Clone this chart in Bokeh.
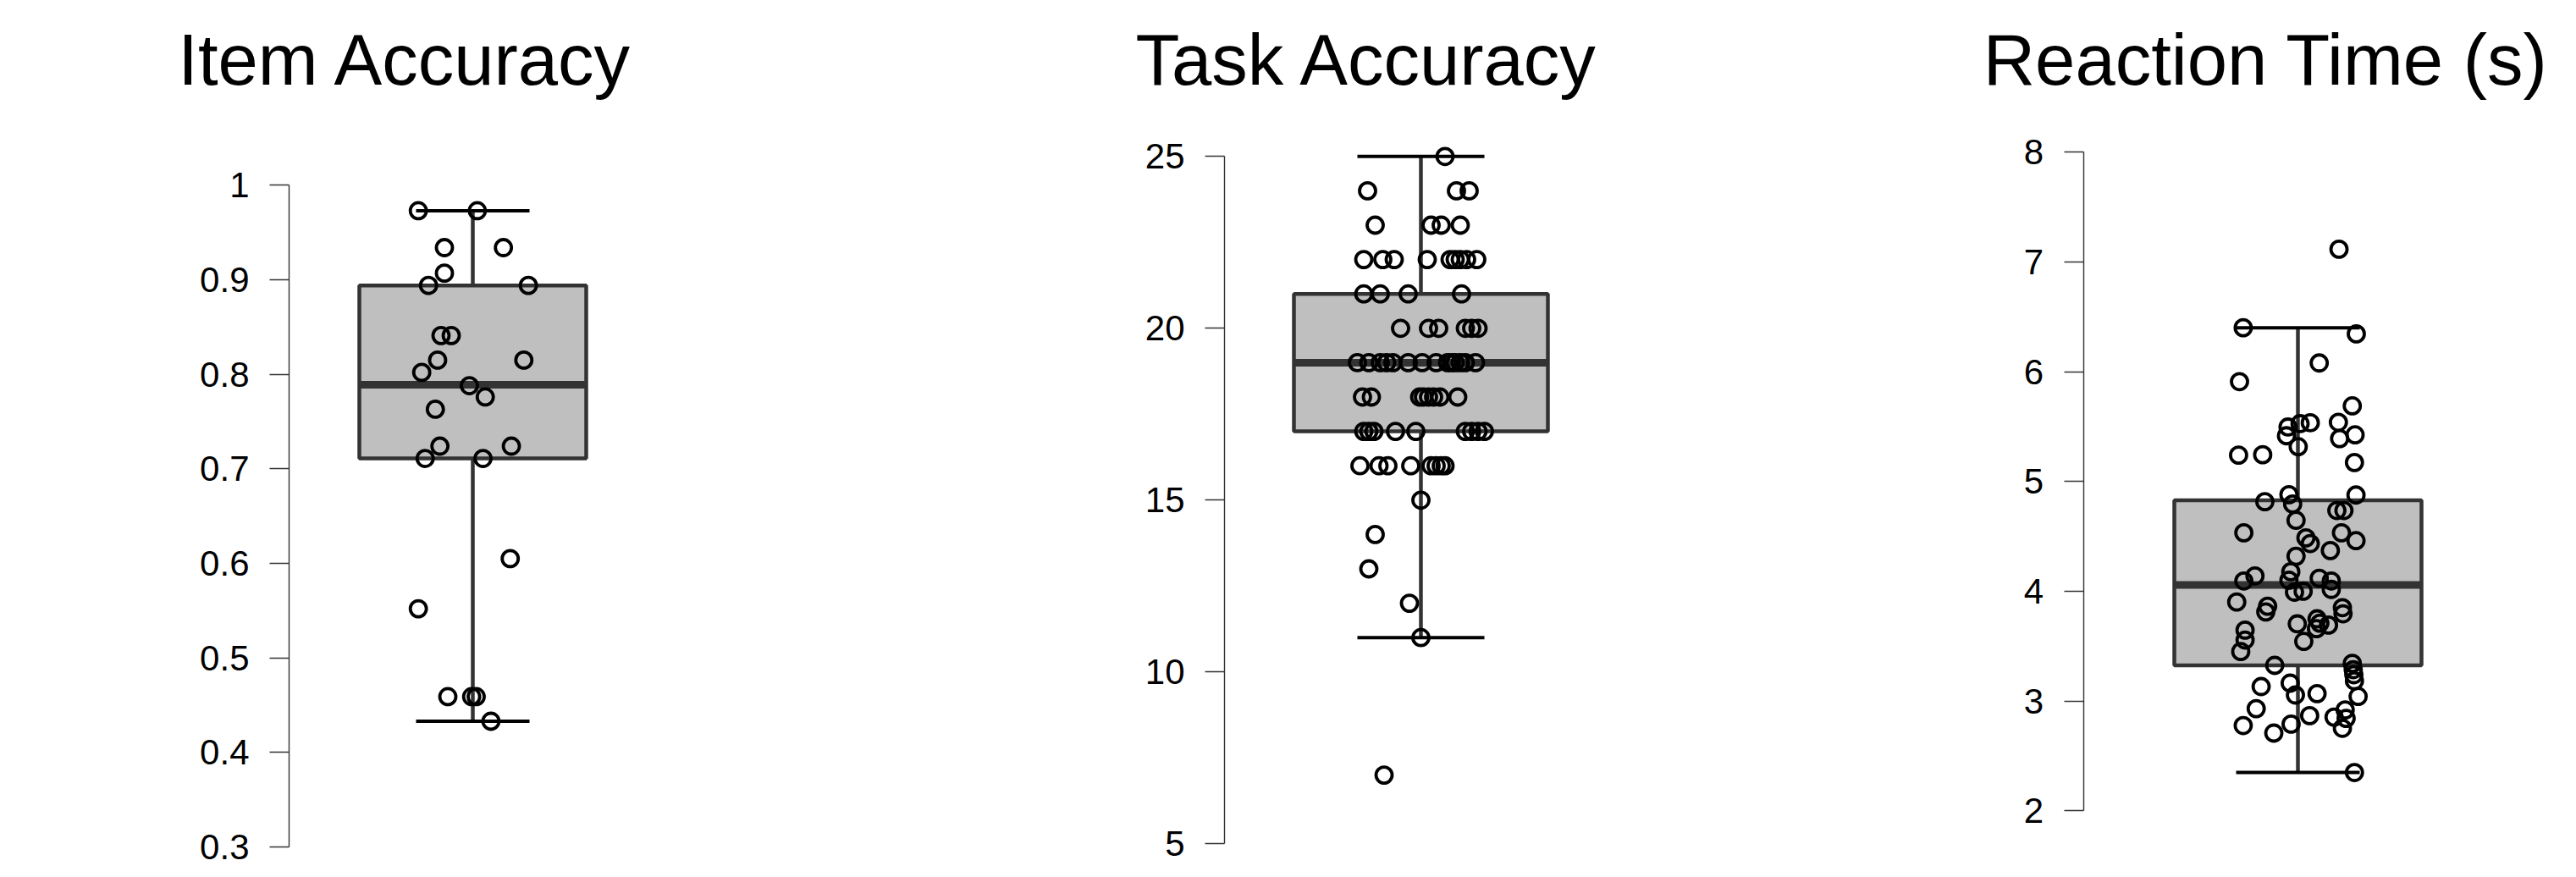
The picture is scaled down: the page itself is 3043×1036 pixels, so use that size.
from bokeh.plotting import figure
from bokeh.layouts import row
from bokeh.models import LinearAxis, FixedTicker, Range1d, Label
from bokeh.embed import file_html
from bokeh.resources import INLINE

# ---------------- data ----------------
titles = ["Item Accuracy", "Task Accuracy", "Reaction Time (s)"]

item_values = [0.973, 0.973, 0.934, 0.934, 0.907, 0.894, 0.894, 0.841, 0.841, 0.815,
               0.815, 0.802, 0.788, 0.776, 0.763, 0.724, 0.724, 0.711, 0.711, 0.605,
               0.552, 0.459, 0.459, 0.459, 0.433]
item_jitter = [-0.192, 0.016, -0.100, 0.108, -0.100, -0.156, 0.196, -0.112, -0.076, -0.124,
               0.180, -0.180, -0.012, 0.044, -0.132, -0.116, 0.136, -0.168, 0.036, 0.132,
               -0.192, -0.088, -0.004, 0.012, 0.064]
# lower whisker, Q1, median, Q3, upper whisker
item_box = [0.433, 0.711, 0.789, 0.894, 0.973]
item_ticks = [0.3, 0.4, 0.5, 0.6, 0.7, 0.8, 0.9, 1.0]
item_tick_labels = ["0.3", "0.4", "0.5", "0.6", "0.7", "0.8", "0.9", "1"]

task_values = [25,
               24, 24, 24,
               23, 23, 23, 23,
               22, 22, 22, 22, 22, 22, 22, 22, 22,
               21, 21, 21, 21,
               20, 20, 20, 20, 20, 20,
               19, 19, 19, 19, 19, 19, 19, 19, 19, 19, 19, 19, 19, 19,
               18, 18, 18, 18, 18, 18, 18, 18,
               17, 17, 17, 17, 17, 17, 17, 17, 17,
               16, 16, 16, 16, 16, 16, 16, 16,
               15, 14, 13, 12, 11, 7]
task_jitter = [0.076,
               -0.168, 0.112, 0.152,
               -0.144, 0.032, 0.064, 0.124,
               -0.180, -0.120, -0.084, 0.020, 0.092, 0.108, 0.124, 0.144, 0.176,
               -0.180, -0.128, -0.040, 0.128,
               -0.064, 0.024, 0.056, 0.140, 0.160, 0.180,
               -0.200, -0.164, -0.128, -0.108, -0.088, -0.040, 0.004, 0.048, 0.084, 0.096,
               0.108, 0.124, 0.140, 0.172,
               -0.184, -0.156, -0.004, 0.008, 0.024, 0.040, 0.060, 0.116,
               -0.180, -0.164, -0.148, -0.080, -0.016, 0.140, 0.160, 0.180, 0.200,
               -0.192, -0.132, -0.104, -0.032, 0.032, 0.048, 0.064, 0.076,
               0.000, -0.144, -0.164, -0.036, 0.000, -0.116]
task_box = [11, 17, 19, 21, 25]
task_ticks = [5, 10, 15, 20, 25]
task_tick_labels = ["5", "10", "15", "20", "25"]

rt_values = [7.116, 6.401, 6.345, 6.080, 5.910, 5.689, 5.540, 5.535, 5.527, 5.496,
             5.417, 5.391, 5.425, 5.317, 5.240, 5.244, 5.173, 4.880, 4.877, 4.816,
             4.795, 4.736, 4.736, 4.646, 4.533, 4.533, 4.461, 4.487, 4.435, 4.371,
             4.319, 4.178, 4.140, 4.094, 4.101, 4.119, 4.094, 4.017, 3.992, 4.000,
             3.902, 3.864, 3.812, 3.851, 3.795, 3.703, 3.749, 3.710, 3.692, 3.659,
             3.646, 3.556, 3.451, 3.543, 3.325, 3.343, 3.286, 3.240, 3.184, 3.132,
             3.163, 3.055, 3.068, 3.042, 2.931, 2.867, 2.854, 2.919, 2.842, 2.752,
             2.777, 2.790, 2.708, 2.349]
rt_jitter = [0.133, -0.177, 0.189, 0.069, -0.189, 0.176, 0.131, 0.040, 0.007, -0.032,
             -0.037, 0.135, 0.185, 0.001, -0.192, -0.114, 0.183, -0.029, 0.188, -0.107,
             -0.017, 0.126, 0.149, -0.006, -0.175, 0.141, 0.188, 0.026, 0.040, 0.105,
             -0.006, -0.023, -0.139, -0.175, -0.029, 0.069, 0.108, 0.108, -0.011, 0.017,
             -0.198, -0.098, -0.104, 0.144, 0.146, -0.002, 0.062, 0.071, 0.099, 0.060,
             -0.171, -0.171, -0.185, 0.019, -0.075, 0.176, 0.179, 0.181, 0.183, -0.119,
             -0.025, -0.008, 0.062, 0.195, -0.135, 0.038, 0.117, 0.153, 0.156, 0.144,
             -0.177, -0.022, -0.078, 0.183]
rt_box = [2.349, 3.325, 4.057, 4.828, 6.401]
rt_ticks = [2, 3, 4, 5, 6, 7, 8]
rt_tick_labels = ["2", "3", "4", "5", "6", "7", "8"]

# ---------------- layout (screenshot pixels) ----------------
ORIGIN = 0          # observed offset of the figures in the screenshot
FIG_H = 1028
BOX_HALF = 0.4      # box half-width in data units
CAP_HALF = 0.2
FONT = "Liberation Sans"
TITLE_BASELINE = 70

panels = [
    dict(title=titles[0], values=item_values, jitter=item_jitter, box=item_box,
         ticks=item_ticks, labels=item_tick_labels,
         left=0, right=1000, axis_x=341, center=558, half_px=134,
         top_px=218.3, bot_px=1000.0, title_x=479),
    dict(title=titles[1], values=task_values, jitter=task_jitter, box=task_box,
         ticks=task_ticks, labels=task_tick_labels,
         left=1000, right=2100, axis_x=1446, center=1678, half_px=150,
         top_px=184.3, bot_px=996.3, title_x=1615),
    dict(title=titles[2], values=rt_values, jitter=rt_jitter, box=rt_box,
         ticks=rt_ticks, labels=rt_tick_labels,
         left=2100, right=3027, axis_x=2460.5, center=2714, half_px=146,
         top_px=179.3, bot_px=957.3, title_x=2676),
]

BOX_FILL = "#bfbfbf"
BOX_LINE = "#333333"


def make_panel(d):
    W = d["right"] - d["left"]
    ppu = d["half_px"] / BOX_HALF
    x0 = (d["left"] - d["center"]) / ppu
    x1 = (d["right"] - d["center"]) / ppu
    t_lo, t_hi = min(d["ticks"]), max(d["ticks"])
    vpp = (t_hi - t_lo) / (d["bot_px"] - d["top_px"])  # value per pixel
    y_top = t_hi + (d["top_px"] - ORIGIN) * vpp
    y_bot = t_lo - (ORIGIN + FIG_H - d["bot_px"]) * vpp

    p = figure(width=W, height=FIG_H, x_range=Range1d(x0, x1), y_range=Range1d(y_bot, y_top),
               output_backend="svg", toolbar_location=None,
               x_axis_location=None, y_axis_location=None, min_border=0,
               outline_line_color=None, background_fill_color="white",
               border_fill_color="white")
    p.grid.visible = False

    ax = LinearAxis(fixed_location=(d["axis_x"] - d["center"]) / ppu,
                    bounds=(t_lo, t_hi),
                    ticker=FixedTicker(ticks=d["ticks"]),
                    major_label_overrides={t: l for t, l in zip(d["ticks"], d["labels"])},
                    minor_tick_line_color=None,
                    major_tick_in=0, major_tick_out=23,
                    axis_line_color="#333333", axis_line_width=1.4,
                    major_tick_line_color="#333333", major_tick_line_width=1.4,
                    major_label_text_font=FONT, major_label_text_font_size="42px",
                    major_label_text_color="black", major_label_standoff=24)
    p.add_layout(ax, "left")

    lo, q1, med, q3, hi = d["box"]
    # whiskers
    p.segment(x0=[0, 0], y0=[q3, lo], x1=[0, 0], y1=[hi, q1],
              line_color=BOX_LINE, line_width=4.5)
    p.segment(x0=[-CAP_HALF, -CAP_HALF], y0=[hi, lo], x1=[CAP_HALF, CAP_HALF], y1=[hi, lo],
              line_color="black", line_width=4)
    # box
    p.quad(left=[-BOX_HALF], right=[BOX_HALF], bottom=[q1], top=[q3],
           fill_color=BOX_FILL, line_color=BOX_LINE, line_width=4.5)
    p.segment(x0=[-BOX_HALF], y0=[med], x1=[BOX_HALF], y1=[med],
              line_color=BOX_LINE, line_width=9)
    # points
    p.scatter(x=d["jitter"], y=d["values"], marker="circle", size=19,
              fill_color=None, line_color="black", line_width=3.8)

    p.add_layout(Label(x=d["title_x"] - d["left"], y=FIG_H - (TITLE_BASELINE - ORIGIN),
                       x_units="screen", y_units="screen", text=d["title"],
                       text_font=FONT, text_font_size="85px", text_color="black",
                       text_align="center", text_baseline="alphabetic"))
    return p


figs = [make_panel(d) for d in panels]
layout = row(*figs, spacing=0)

open("out.html", "w").write(file_html(layout, INLINE))
